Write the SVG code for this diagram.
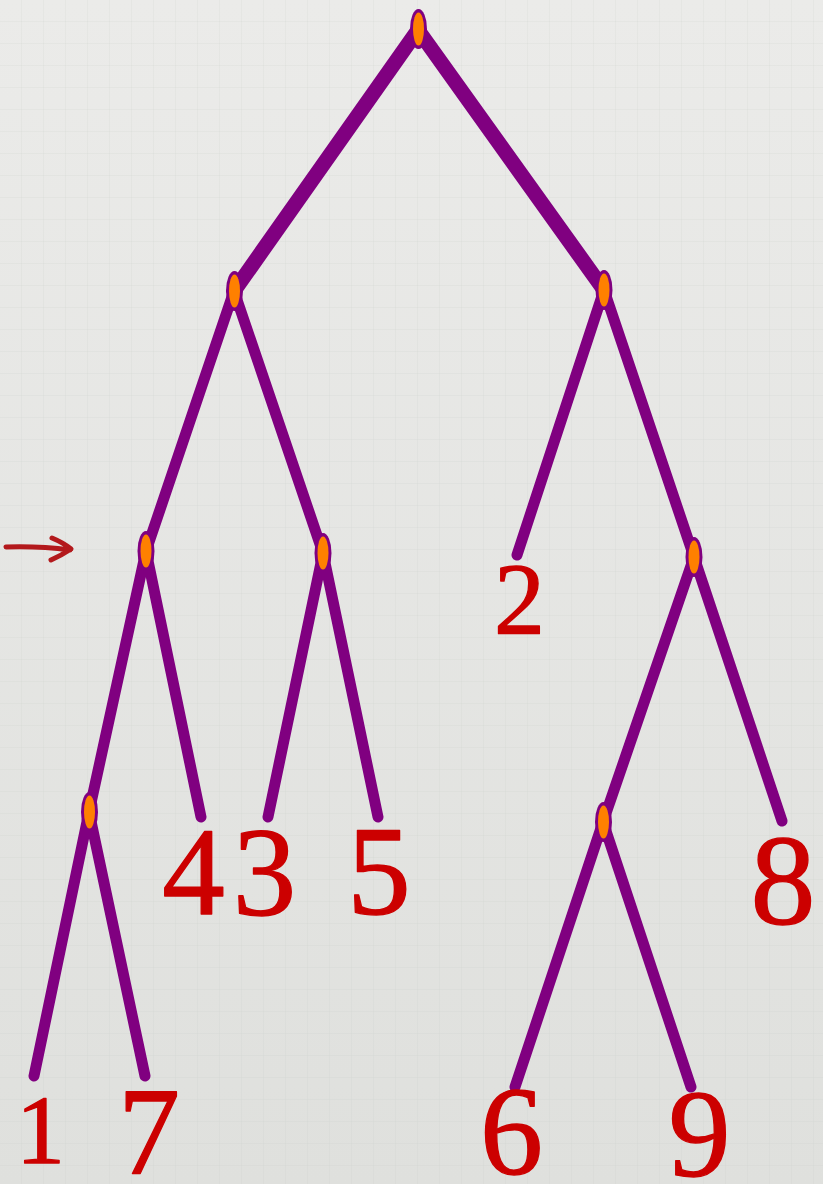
<svg xmlns="http://www.w3.org/2000/svg" width="823" height="1184" viewBox="0 0 823 1184">
<defs>
<linearGradient id="bg" x1="0" y1="0" x2="0" y2="1">
<stop offset="0" stop-color="#ebebe9"/>
<stop offset="1" stop-color="#dfe0dd"/>
</linearGradient>
<pattern id="grid" width="22" height="22" patternUnits="userSpaceOnUse">
<path d="M22 0V22M0 22H22" fill="none" stroke="#c8cac6" stroke-width="1" opacity="0.35"/>
</pattern>
<style>
.e{fill:none;stroke:#800080;stroke-linecap:round;stroke-width:11}
.e0{stroke-width:15}
.o{fill:#800080}
.i{fill:#ff8000}
.n{font-family:"Liberation Serif","Times New Roman",serif;fill:#cc0000;stroke:#cc0000;stroke-width:1.3;stroke-linejoin:round;text-anchor:middle}
</style>
</defs>
<rect width="823" height="1184" fill="url(#bg)"/>
<rect width="823" height="1184" fill="url(#grid)"/>
<path d="M6 547 Q40 546 70 550 M52 538 Q64 543 71 549 Q62 555 51 560" fill="none" stroke="#b3191c" stroke-width="5" stroke-linecap="round" stroke-linejoin="round"/>
<g id="connectors">
<line class="e e0" x1="418" y1="30" x2="234" y2="291"/>
<line class="e e0" x1="418" y1="30" x2="604" y2="290"/>
<line class="e" x1="234" y1="291" x2="146" y2="551"/>
<line class="e" x1="234" y1="291" x2="323" y2="553"/>
<line class="e" x1="604" y1="290" x2="517" y2="555"/>
<line class="e" x1="604" y1="290" x2="694" y2="557"/>
<line class="e" x1="146" y1="551" x2="89" y2="812"/>
<line class="e" x1="146" y1="551" x2="201" y2="817"/>
<line class="e" x1="323" y1="553" x2="268" y2="817"/>
<line class="e" x1="323" y1="553" x2="378" y2="817"/>
<line class="e" x1="89" y1="812" x2="34" y2="1076"/>
<line class="e" x1="89" y1="812" x2="145" y2="1076"/>
<line class="e" x1="694" y1="557" x2="603" y2="822"/>
<line class="e" x1="694" y1="557" x2="782" y2="821"/>
<line class="e" x1="603" y1="822" x2="515" y2="1087"/>
<line class="e" x1="603" y1="822" x2="691" y2="1087"/>
</g>
<g id="n-root"><ellipse class="o" cx="418.5" cy="29" rx="8.5" ry="20"/><ellipse class="i" cx="418.5" cy="29" rx="5.5" ry="16.5"/></g>
<g id="n-l"><ellipse class="o" cx="234.5" cy="291" rx="8.5" ry="20"/><ellipse class="i" cx="234.5" cy="291" rx="5.5" ry="16.5"/></g>
<g id="n-r"><ellipse class="o" cx="604" cy="290" rx="8.5" ry="20"/><ellipse class="i" cx="604" cy="290" rx="5.5" ry="16.5"/></g>
<g id="n-ll"><ellipse class="o" cx="146" cy="551" rx="8.5" ry="20"/><ellipse class="i" cx="146" cy="551" rx="5.5" ry="16.5"/></g>
<g id="n-lr"><ellipse class="o" cx="323" cy="553" rx="8.5" ry="20"/><ellipse class="i" cx="323" cy="553" rx="5.5" ry="16.5"/></g>
<g id="n-rr"><ellipse class="o" cx="694" cy="557" rx="8.5" ry="20"/><ellipse class="i" cx="694" cy="557" rx="5.5" ry="16.5"/></g>
<g id="n-lll"><ellipse class="o" cx="89.5" cy="812" rx="8.5" ry="20"/><ellipse class="i" cx="89.5" cy="812" rx="5.5" ry="16.5"/></g>
<g id="n-rrl"><ellipse class="o" cx="603.5" cy="822" rx="8.5" ry="20"/><ellipse class="i" cx="603.5" cy="822" rx="5.5" ry="16.5"/></g>
<g id="leaf-2"><text class="n" x="519.5" y="634" font-size="102">2</text></g>
<g id="leaf-4"><text class="n" x="193.5" y="914" font-size="125">4</text></g>
<g id="leaf-3"><text class="n" x="264.5" y="915" font-size="127">3</text></g>
<g id="leaf-5"><text class="n" x="379" y="914" font-size="127">5</text></g>
<g id="leaf-8"><text class="n" x="783" y="924" font-size="130">8</text></g>
<g id="leaf-1"><text class="n" x="40.5" y="1163" font-size="98">1</text></g>
<g id="leaf-7"><text class="n" x="149" y="1174" font-size="124">7</text></g>
<g id="leaf-6"><text class="n" x="511.5" y="1174" font-size="126">6</text></g>
<g id="leaf-9"><text class="n" x="699.5" y="1176" font-size="124">9</text></g>
</svg>
